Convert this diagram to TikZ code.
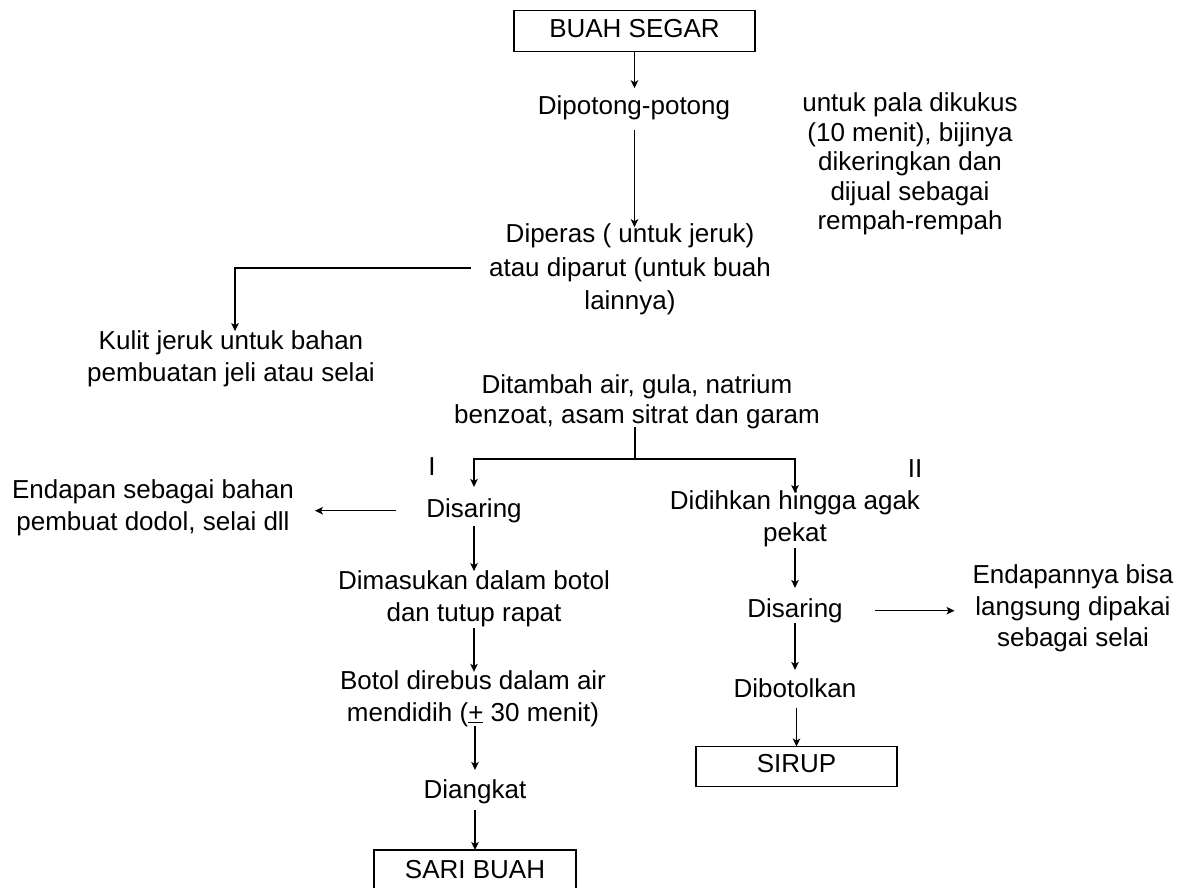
\documentclass[tikz,border=0pt]{standalone}
\usepackage{fontspec}
\setmainfont{Liberation Sans}
\usetikzlibrary{arrows.meta}
\begin{document}
\begin{tikzpicture}[x=1pt,y=-1pt,
  txt/.style={font=\fontsize{26}{31.5}\selectfont, inner sep=0pt, outer sep=0pt, align=center,
    execute at begin node=\strut, execute at end node=\strut},
  boxnode/.style={txt, draw, line width=1.3pt},
  conn/.style={line width=1.3pt},
  arr/.style={conn, -{Stealth[length=8pt,width=7.5pt,inset=2pt]}}]
\useasboundingbox (0,0) rectangle (1182,887);
\clip (0,0) rectangle (1182,887);

\node[boxnode, minimum width=241pt, minimum height=41pt] (bs) at (634.5,30.7) {BUAH SEGAR};
\node[txt] (dp) at (634,108) {Dipotong-potong};
\node[txt, font=\fontsize{26}{33.5}\selectfont] (diperas) at (630,271.6) {Diperas ( untuk jeruk)\\atau diparut (untuk buah\\lainnya)};
\node[txt, font=\fontsize{26}{29.5}\selectfont] (pala) at (910,165.7) {untuk pala dikukus\\(10 menit), bijinya\\dikeringkan dan\\dijual sebagai\\rempah-rempah};
\node[txt] (kulit) at (231,361) {Kulit jeruk untuk bahan\\pembuatan jeli atau selai};
\node[txt, font=\fontsize{26}{30}\selectfont] (tambah) at (637,404) {Ditambah air, gula, natrium\\benzoat, asam sitrat dan garam};
\coordinate (fork) at (635,459);
\node[txt] (one) at (432,469) {I};
\node[txt] (two) at (915,470.7) {II};
\node[txt] (ds1) at (474,510.7) {Disaring};
\node[txt] (endapan) at (153,509.7) {Endapan sebagai bahan\\pembuat dodol, selai dll};
\node[txt] (dim) at (474,601) {Dimasukan dalam botol\\dan tutup rapat};
\node[txt] (botol) at (473,700.7) {Botol direbus dalam air\\mendidih (\underline{+} 30 menit)};
\node[txt] (diangkat) at (475,791.7) {Diangkat};
\node[boxnode, minimum width=202pt, minimum height=44pt, anchor=north] (sari) at (475,850) {SARI BUAH};
\node[txt] (didih) at (795,521) {Didihkan hingga agak\\pekat};
\node[txt] (ds2) at (795,610.7) {Disaring};
\node[txt] (endapannya) at (1073,610.7) {Endapannya bisa\\langsung dipakai\\sebagai selai};
\node[txt] (dibotol) at (795,690.7) {Dibotolkan};
\node[boxnode, minimum width=201pt, minimum height=40pt] (sirup) at (796.5,766.5) {SIRUP};

% connectors
\draw[arr, shorten >=4pt] (bs.south) -- (dp.north -| bs.south);
\draw[arr, shorten <=6.5pt, shorten >=-3.5pt] (dp.south -| bs.south) -- (diperas.north -| bs.south);
\draw[arr] ([xshift=-18pt,yshift=3.5pt]diperas.west) -| ([xshift=4pt]kulit.north);
\draw[conn, shorten <=-6pt] (tambah.south -| fork) -- (fork);
\draw[arr, shorten >=8pt] (fork) -| (ds1.north);
\draw[arr, shorten >=-2pt] (fork) -| (didih.north);
\draw[arr, shorten <=30pt, shorten >=21pt] (ds1.west) -- (ds1.west -| endapan.east);
\draw[arr] (ds1.south) -- (dim.north -| ds1.south);
\draw[arr, shorten <=-2.5pt, shorten >=-1pt] (dim.south -| ds1.south) -- (botol.north -| ds1.south);
\draw[arr, shorten <=-4.5pt, shorten >=6pt] (botol.south -| diangkat.north) -- (diangkat.north);
\draw[arr, shorten <=2.5pt] (diangkat.south) -- (sari.north);
\draw[arr, shorten <=-2.5pt, shorten >=7pt] (didih.south) -- (ds2.north);
\draw[arr, shorten <=32pt, shorten >=18pt] (ds2.east) -- (ds2.east -| endapannya.west);
\draw[arr, shorten <=-3.5pt, shorten >=5pt] (ds2.south) -- (dibotol.north);
\draw[arr, shorten <=1.5pt] (dibotol.south -| sirup.north) -- (sirup.north);
\end{tikzpicture}
\end{document}
